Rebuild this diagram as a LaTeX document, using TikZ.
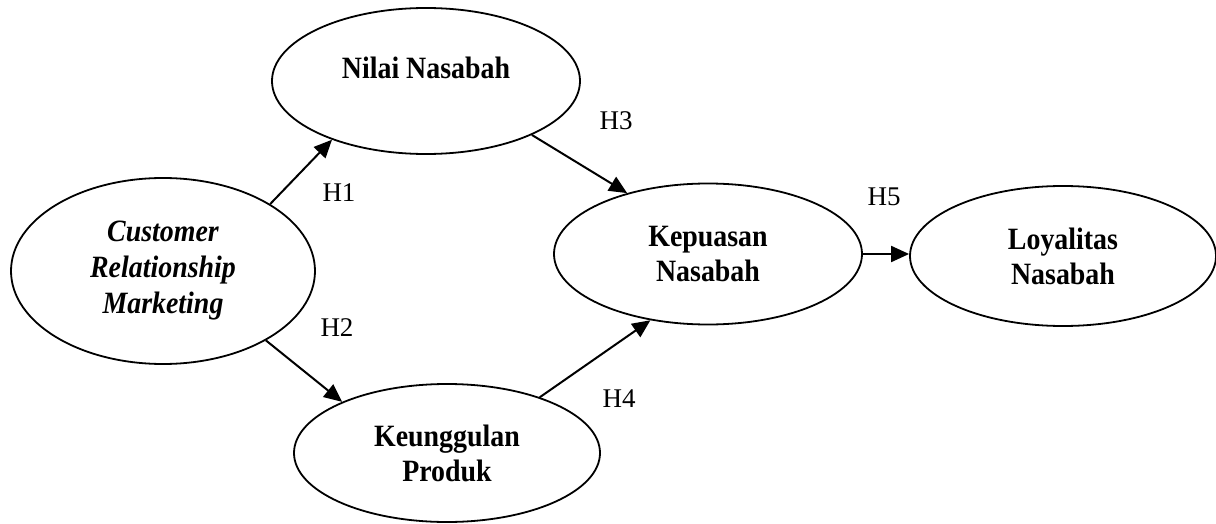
\documentclass[tikz,border=0pt]{standalone}
\usepackage{fontspec}
\setmainfont{Liberation Serif}[FakeStretch=0.9]
\newfontfamily\hypfont{Liberation Serif}
\usetikzlibrary{shapes.geometric,arrows.meta}
\begin{document}
\begin{tikzpicture}[x=1pt,y=-1pt,
  vtext/.style={font=\fontsize{31}{35}\selectfont\bfseries, align=center, inner sep=0pt},
  var/.style={vtext, draw, ellipse, line width=1.8pt},
  hyp/.style={font=\hypfont\fontsize{27}{30}\selectfont, inner sep=0pt},
  arr/.style={line width=2pt, -{Triangle[length=18pt,width=16pt]}}]
\useasboundingbox (0,0) rectangle (1216,524);
\node[var, font=\fontsize{31}{36}\selectfont\bfseries\itshape,
      minimum width=304pt, minimum height=186pt] (crm) at (163,271)
      {Customer\\Relationship\\Marketing};
\node[var, minimum width=308pt, minimum height=146pt,
      label={[vtext, name=nilaitext, yshift=13pt]center:Nilai Nasabah}] (nilai) at (426,81) {};
\node[var, minimum width=308pt, minimum height=141pt] (kep) at (708,254) {Kepuasan\\Nasabah};
\node[var, minimum width=306pt, minimum height=140pt] (loy) at (1063,256) {Loyalitas\\Nasabah};
\node[var, minimum width=306pt, minimum height=138pt] (keu) at (447,453) {Keunggulan\\Produk};
\draw[arr] (crm.32) -- (nilai.212);
\draw[arr] (nilai.-27) -- (kep.143);
\draw[arr] (crm.-34) -- (keu.154);
\draw[arr] (keu.31) -- (kep.229);
\draw[arr] (kep.east) -- (kep.east -| loy.west);
\node[hyp] (h1) at (339,193) {H1};
\node[hyp] (h2) at (337,328) {H2};
\node[hyp] (h3) at (616,121) {H3};
\node[hyp] (h4) at (619,399) {H4};
\node[hyp] (h5) at (884,197) {H5};
\end{tikzpicture}
\end{document}
